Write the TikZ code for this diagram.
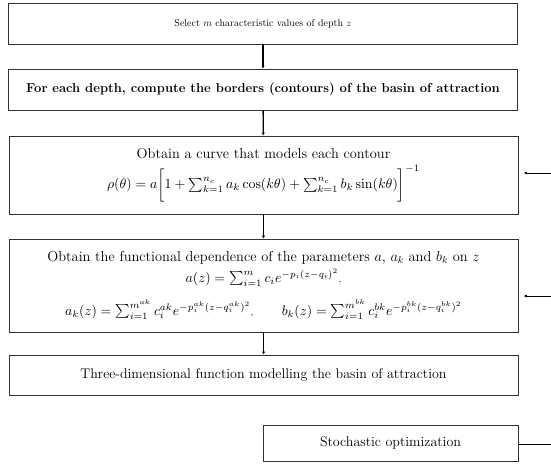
\documentclass[tikz,border=0pt]{standalone}
\usepackage{amsmath}
\usepackage{graphicx}
\usetikzlibrary{arrows.meta}
\newcommand{\bigmath}[1]{\scalebox{1.38}{$#1$}}
\begin{document}
\begin{tikzpicture}[x=1pt,y=-1pt,
  box/.style={draw=black!80,line width=0.9pt,minimum width=509pt,inner sep=2pt,align=center},
  flow/.style={draw=black,line width=1.3pt,-{Latex[length=3pt,width=3.5pt]}},
  feed/.style={draw=black,line width=0.7pt,-{Latex[length=3.5pt,width=3pt]},shorten >=5pt}]
\useasboundingbox (0,0) rectangle (551,466);
\node[box,minimum height=41pt] (b1) at (263,23.5)
  {\fontsize{10}{12}\selectfont Select $m$ characteristic values of depth $z$};
\node[box,minimum height=41pt] (b2) at (263,89.5)
  {\fontsize{13}{15}\selectfont\bfseries For each depth, compute the borders (contours) of the basin of attraction};
\node[box,minimum height=78pt] (b3) at (263.5,175)
  {\fontsize{14.4}{17}\selectfont Obtain a curve that models each contour\\[6pt]
   \bigmath{\rho(\theta)=a\biggl[1+\sum_{k=1}^{n_c} a_k\cos(k\theta)+\sum_{k=1}^{n_c} b_k\sin(k\theta)\biggr]^{-1}}};
\node[box,minimum height=93pt] (b4) at (263.5,285.5)
  {\fontsize{14.4}{17}\selectfont Obtain the functional dependence of the parameters $a$, $a_k$ and $b_k$ on $z$\\[3pt]
   \bigmath{a(z)=\sum_{i=1}^{m} c_i e^{-p_i(z-q_i)^2}},\\[12pt]
   \bigmath{a_k(z)=\sum_{i=1}^{m^{ak}} c_i^{ak} e^{-p_i^{ak}(z-q_i^{ak})^2}},\hspace{2.5em}
   \bigmath{b_k(z)=\sum_{i=1}^{m^{bk}} c_i^{bk} e^{-p_i^{bk}(z-q_i^{bk})^2}}};
\node[box,minimum height=40pt] (b5) at (263.5,375)
  {\fontsize{14}{16}\selectfont Three-dimensional function modelling the basin of attraction};
\node[box,minimum width=255pt,minimum height=36pt] (st) at (390.5,443)
  {\fontsize{14}{16}\selectfont Stochastic optimization};
\coordinate (f3) at (551,173);
\coordinate (f4) at (551,296);
\coordinate (fs) at (551,444);
\draw[flow] (b1) -- (b2);
\draw[flow] (b2) -- (b3);
\draw[flow] (b3) -- (b4);
\draw[flow] (b4) -- (b5);
\draw[feed] (f3) -- (f3 -| b3.east);
\draw[feed] (f4) -- (f4 -| b4.east);
\draw[draw=black,line width=0.7pt] (fs -| st.east) -- (fs);
\end{tikzpicture}
\end{document}
